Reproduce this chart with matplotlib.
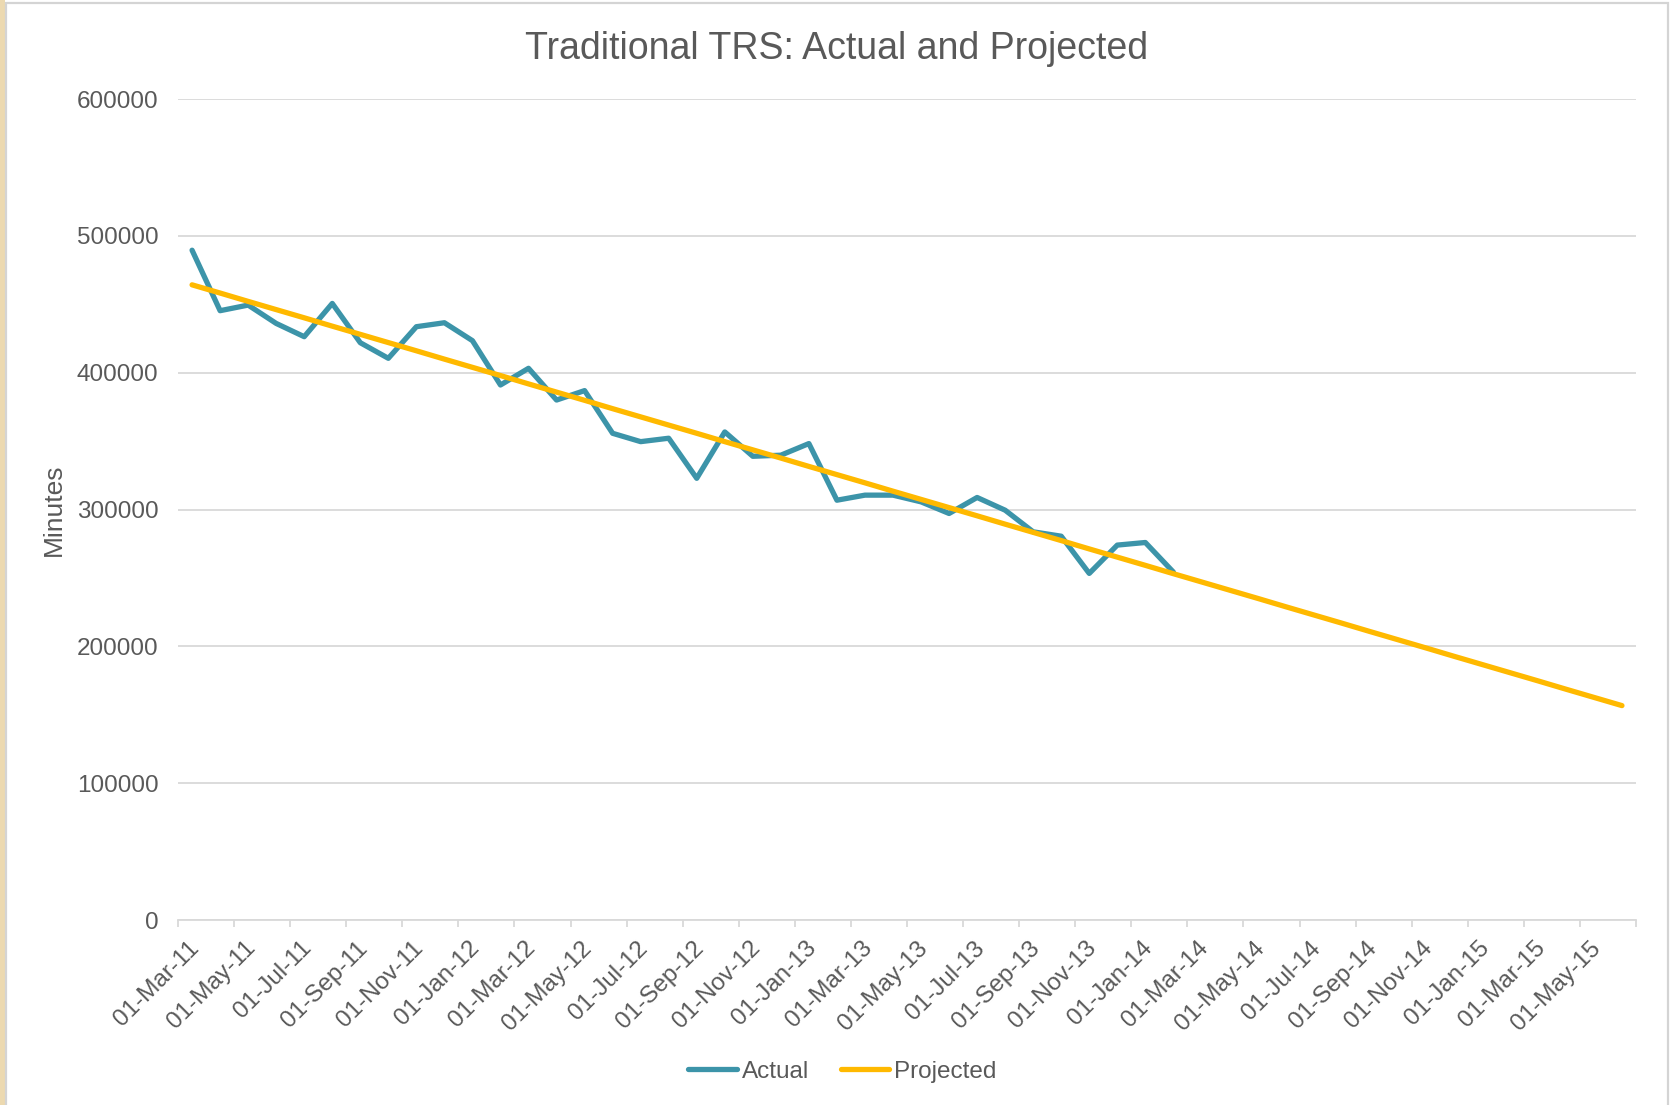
import matplotlib.pyplot as plt
from matplotlib.patches import Rectangle
from matplotlib.transforms import ScaledTranslation

# monthly data, Mar-11 .. Jun-15 (52 months)
tick_labels = ['01-Mar-11', '01-May-11', '01-Jul-11', '01-Sep-11', '01-Nov-11',
               '01-Jan-12', '01-Mar-12', '01-May-12', '01-Jul-12', '01-Sep-12',
               '01-Nov-12', '01-Jan-13', '01-Mar-13', '01-May-13', '01-Jul-13',
               '01-Sep-13', '01-Nov-13', '01-Jan-14', '01-Mar-14', '01-May-14',
               '01-Jul-14', '01-Sep-14', '01-Nov-14', '01-Jan-15', '01-Mar-15',
               '01-May-15']

actual = [489500, 445300, 449400, 436000, 426300, 450600, 421900, 410500,
          433600, 436500, 423400, 391000, 403200, 380000, 386900, 355700,
          349600, 352100, 322800, 356700, 338900, 339700, 348200, 306800,
          310500, 310500, 305600, 297100, 308800, 299500, 283700, 280500,
          253300, 274000, 275900, 254300]

projected = [464200, 458200, 452100, 446100, 440100, 434000, 428000, 422000,
             416000, 409900, 403900, 397900, 391800, 385800, 379800, 373700,
             367700, 361700, 355700, 349600, 343600, 337600, 331500, 325500,
             319500, 313400, 307400, 301400, 295400, 289300, 283300, 277300,
             271200, 265200, 259200, 253100, 247100, 241100, 235100, 229000,
             223000, 217000, 210900, 204900, 198900, 192800, 186800, 180800,
             174800, 168700, 162700, 156700]

n_months = len(projected)
grey = '#595959'
grid = '#d9d9d9'

plt.rcParams['font.family'] = ['Liberation Sans', 'DejaVu Sans']

fig = plt.figure(figsize=(16.75, 11.05), dpi=100)
fig.patch.set_facecolor('white')

# frame of the chart object and the beige strip at the left edge
fig.patches.append(Rectangle((0, 0), 0.003, 1, transform=fig.transFigure,
                             facecolor='#ecd9b0', edgecolor='none', zorder=0))
fig.patches.append(Rectangle((0.0035, -0.01), 0.9925, 1.007, transform=fig.transFigure,
                             facecolor='none', edgecolor='#d4d4d4', lw=1.6, zorder=1))

ax = fig.add_axes([0.1063, 0.1674, 0.8704, 0.7430])

x_act = [i + 0.5 for i in range(len(actual))]
x_proj = [i + 0.5 for i in range(n_months)]

ax.plot(x_act, actual, color='#3c94a9', lw=3.8, label='Actual',
        solid_joinstyle='round', solid_capstyle='round', zorder=3)
ax.plot(x_proj, projected, color='#ffb900', lw=3.8, label='Projected',
        solid_joinstyle='round', solid_capstyle='round', zorder=4)

ax.set_xlim(0, n_months)
ax.set_ylim(0, 600000)
ax.set_yticks(range(0, 600001, 100000))
ax.set_yticklabels([str(v) for v in range(0, 600001, 100000)])
ax.yaxis.grid(True, color=grid, lw=1.3)
ax.set_axisbelow(True)

# tick marks every 2 months; labels drawn by hand so they can sit right of the tick
tick_pos = list(range(0, n_months + 1, 2))
ax.set_xticks(tick_pos)
ax.set_xticklabels([])
shift = ScaledTranslation(10 / 100, -17 / 100, fig.dpi_scale_trans)
for pos, lab in zip(tick_pos, tick_labels):
    ax.text(pos, 0, lab, transform=ax.get_xaxis_transform() + shift,
            rotation=45, rotation_mode='anchor', ha='right', va='top',
            fontsize=17.5, color=grey)

for s in ['top', 'right', 'left']:
    ax.spines[s].set_visible(False)
ax.spines['bottom'].set_color(grid)
ax.spines['bottom'].set_linewidth(1.3)

ax.tick_params(axis='y', length=0, pad=14, labelsize=17.5, labelcolor=grey)
ax.tick_params(axis='x', length=5, width=1.3, color=grid)

ax.set_ylabel('Minutes', fontsize=19, color=grey, labelpad=8)
fig.text(0.4995, 0.956, 'Traditional TRS: Actual and Projected', fontsize=27,
         color=grey, ha='center', va='center')

fig.legend(loc='center', bbox_to_anchor=(0.503, 0.030), ncol=2, frameon=False,
           fontsize=17.5, handlelength=2.0, handletextpad=0.2, columnspacing=1.3,
           labelcolor=grey)

fig.savefig('out.png', dpi=100)
